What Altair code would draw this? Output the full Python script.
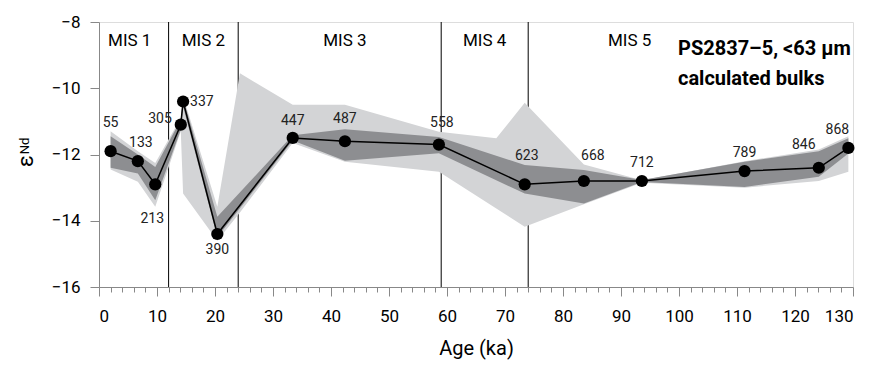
import altair as alt
import pandas as pd

# Calculated bulk εNd of core PS2837-5 (<63 µm) versus age
ages = [2.0, 6.7, 9.7, 14.1, 14.5, 20.4, 33.4, 42.4, 58.6, 73.4, 83.6, 93.6, 111.3, 124.1, 129.2]
end_values = [-11.9, -12.2, -12.9, -11.1, -10.4, -14.4, -11.5, -11.6, -11.7,
              -12.9, -12.8, -12.8, -12.5, -12.4, -11.8]
depth_labels = ["55", "133", "213", "305", "337", "390", "447", "487", "558",
                "623", "668", "712", "789", "846", "868"]

# Inner (dark) uncertainty envelope, at the sample ages
inner_upper = [-11.45, -12.0, -12.38, -10.95, -10.3, -13.88, -11.42, -11.24, -11.47,
               -12.32, -12.47, -12.77, -12.22, -11.9, -11.51]
inner_lower = [-12.4, -12.57, -13.38, -11.25, -10.55, -14.5, -11.58, -12.19, -11.96,
               -13.18, -13.48, -12.83, -12.98, -12.67, -11.97]

# Outer (light) envelope
outer_ages = [2.0, 6.7, 9.7, 14.1, 14.5, 20.4, 24.3, 33.4, 42.4, 58.6, 68.5, 73.4,
              83.6, 93.6, 111.3, 124.1, 129.2]
outer_upper = [-11.3, -11.9, -12.26, -10.9, -10.25, -13.58, -9.55, -10.5, -10.5, -11.31,
               -11.51, -10.44, -12.3, -12.78, -12.2, -11.85, -11.45]
outer_lower = [-12.45, -12.82, -13.58, -11.3, -13.18, -14.6, -13.75, -11.65, -12.22, -12.52,
               -13.63, -14.18, -13.5, -12.85, -13.0, -12.8, -12.52]

# Marine isotope stage boundaries and label positions (ka)
mis_bounds = [12, 24, 59, 74]
mis_names = ["MIS 1", "MIS 2", "MIS 3", "MIS 4", "MIS 5"]
mis_label_ages = [5.3, 18, 42.4, 66.5, 91.5]

FONT = "Roboto, 'Liberation Sans', sans-serif"

samples = pd.DataFrame({"age": ages, "end": end_values, "label": depth_labels,
                        "in_hi": inner_upper, "in_lo": inner_lower})
outer = pd.DataFrame({"age": outer_ages, "hi": outer_upper, "lo": outer_lower})
bounds = pd.DataFrame({"age": mis_bounds})
mis = pd.DataFrame({"age": mis_label_ages, "name": mis_names})

xscale = alt.Scale(domain=[0, 130], nice=False, zero=False)
yscale = alt.Scale(domain=[-16, -8], nice=False, zero=False)

x_axis = alt.Axis(
    values=list(range(0, 131, 2)),
    labelExpr="datum.value % 10 === 0 ? datum.label : ''",
    tickSize={"condition": {"test": "datum.value % 10 === 0", "value": 9}, "value": 5},
    labelFont=FONT, labelFontSize=17, labelColor="black", labelPadding=12,
    title="Age (ka)", titleFont=FONT, titleFontSize=20, titleFontWeight="normal",
    titleColor="black", titlePadding=14,
    grid=False,
)
y_axis = alt.Axis(values=[-16, -14, -12, -10, -8], tickSize=9, labelPadding=10,
                  labelFont=FONT, labelFontSize=17, labelColor="black",
                  title=None, grid=False)

X = alt.X("age:Q", scale=xscale, axis=x_axis)
Y = alt.Y("end:Q", scale=yscale, axis=y_axis)

bound_rules = alt.Chart(bounds).mark_rule(color="black", strokeWidth=1).encode(
    x=X, y=alt.value(0), y2=alt.value(265)
)

outer_band = alt.Chart(outer).mark_area(color="#d3d4d6", opacity=1).encode(
    x=X, y=alt.Y("lo:Q", scale=yscale, axis=y_axis), y2="hi:Q",
)

inner_band = alt.Chart(samples).mark_area(color="#8d8e91", opacity=1).encode(
    x=X, y=alt.Y("in_lo:Q", scale=yscale, axis=y_axis), y2="in_hi:Q",
)

line = alt.Chart(samples).mark_line(color="black", strokeWidth=1.5).encode(x=X, y=Y)
points = alt.Chart(samples).mark_circle(color="black", size=150, opacity=1).encode(x=X, y=Y)

# Sample depth labels: pixel offset and alignment of each label
label_offsets = {
    "55": (0, -28, "center"), "133": (3, -18, "center"), "213": (-3, 35, "center"),
    "305": (-9, -6, "right"), "337": (7, 0, "left"), "390": (0, 16, "center"),
    "447": (0, -17, "center"), "487": (0, -22, "center"), "558": (3, -22, "center"),
    "623": (2, -28, "center"), "668": (9, -25, "center"), "712": (0, -18, "center"),
    "789": (0, -18, "center"), "846": (-15, -23, "center"), "868": (-11, -18, "center"),
}
label_layers = []
for lab, (dx, dy, al) in label_offsets.items():
    label_layers.append(
        alt.Chart(samples).transform_filter(alt.datum.label == lab)
        .mark_text(font=FONT, fontSize=14, color="#222222", dx=dx, dy=dy,
                   align=al, baseline="middle")
        .encode(x=X, y=Y, text="label:N")
    )

mis_text = alt.Chart(mis).mark_text(font=FONT, fontSize=17, color="black",
                                    baseline="middle").encode(
    x=X, y=alt.value(19), text="name:N"
)

# Core label in the upper right corner, two lines
title_lines = [("PS2837–5, <63 µm", 33), ("calculated bulks", 63)]
title_layers = [
    alt.Chart(pd.DataFrame({"t": [t]})).mark_text(
        font=FONT, fontSize=20, fontWeight="bold", color="black", align="left",
        baseline="alphabetic"
    ).encode(x=alt.value(579), y=alt.value(yy), text="t:N")
    for t, yy in title_lines
]

eps = alt.Chart(pd.DataFrame({"t": ["ε"]})).mark_text(
    font=FONT, fontSize=22, angle=270, align="center", baseline="middle", color="black"
).encode(x=alt.value(-73), y=alt.value(139), text="t:N")
nd = alt.Chart(pd.DataFrame({"t": ["Nd"]})).mark_text(
    font=FONT, fontSize=13, angle=270, align="center", baseline="middle", color="black"
).encode(x=alt.value(-74), y=alt.value(124), text="t:N")

chart = alt.layer(
    bound_rules, outer_band, inner_band, line, points, *label_layers, mis_text,
    *title_layers, eps, nd
).properties(
    width=754, height=265,
    padding={"left": 99, "top": 22, "right": 16, "bottom": 80},
    autosize=alt.AutoSizeParams(type="none"),
).configure_view(stroke="black", strokeWidth=1.2).configure_axis(
    domainColor="black", domainWidth=1.2, tickColor="black", tickWidth=1.2,
).configure(background="white")

chart.save("out.html", embed_options={"renderer": "svg", "actions": False})
